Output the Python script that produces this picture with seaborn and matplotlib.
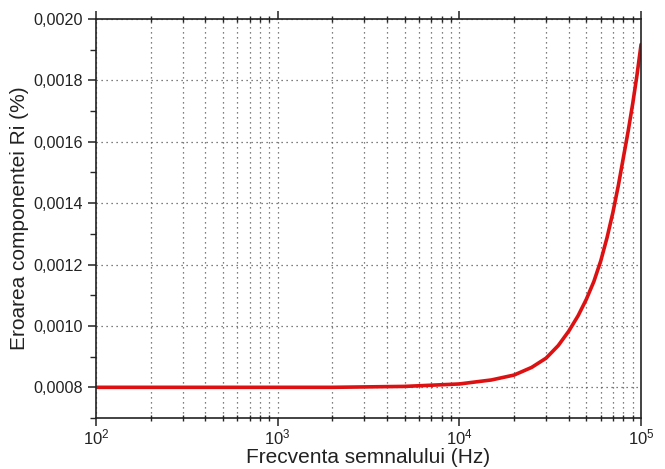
import matplotlib
matplotlib.use("Agg")
import matplotlib.pyplot as plt
import matplotlib.ticker as mticker
import seaborn as sns
import pandas as pd

# valori
frecventa = [100, 200, 500, 1000, 2000, 5000, 10000, 15000, 20000, 25000,
             30000, 35000, 40000, 45000, 50000, 55000, 60000, 65000, 70000,
             75000, 80000, 85000, 90000, 95000, 100000]
eroare = [0.0008, 0.0008, 0.0008, 0.0008, 0.0008, 0.000803, 0.000811, 0.000824,
          0.00084, 0.000865, 0.000895, 0.000936, 0.000983, 0.001033, 0.001087,
          0.001145, 0.001212, 0.001288, 0.001370, 0.001458, 0.001550, 0.001636,
          0.001725, 0.001818, 0.001917]

df = pd.DataFrame({"f": frecventa, "e": eroare})

sns.set_style("ticks")
plt.rcParams["font.family"] = ["Liberation Sans", "DejaVu Sans"]

fig = plt.figure(figsize=(6.65, 4.69), dpi=100)
ax = fig.add_axes([0.1444, 0.1087, 0.8196, 0.8508])

sns.lineplot(data=df, x="f", y="e", ax=ax, color="#dd1111", linewidth=2.6)

ax.set_xscale("log")
ax.set_xlim(100, 100000)
ax.set_ylim(0.0007, 0.0020)

ax.yaxis.set_major_locator(mticker.MultipleLocator(0.0002))
ax.yaxis.set_minor_locator(mticker.MultipleLocator(0.0001))
ax.yaxis.set_major_formatter(
    mticker.FuncFormatter(lambda v, p: f"{v:.4f}".replace(".", ",")))
ax.xaxis.set_major_locator(mticker.LogLocator(base=10, numticks=10))
ax.xaxis.set_minor_locator(mticker.LogLocator(base=10, subs=range(2, 10), numticks=10))
ax.xaxis.set_minor_formatter(mticker.NullFormatter())

ax.grid(True, which="major", axis="both", linestyle=(0, (1, 3)), color="#555555", linewidth=0.9)
ax.grid(True, which="minor", axis="x", linestyle=(0, (1, 3)), color="#555555", linewidth=0.9)

for s in ax.spines.values():
    s.set_linewidth(1.2)
    s.set_color("#222222")

ax.tick_params(axis="both", which="major", length=6, width=1.1, direction="out",
               labelsize=12, colors="#222222")
ax.tick_params(axis="x", which="major", pad=1, top=True)
ax.tick_params(axis="y", which="major", labelsize=11.6)
ax.tick_params(axis="y", which="minor", length=4, width=1.0, direction="out")
ax.tick_params(axis="x", which="minor", length=4, width=1.0, direction="inout",
               top=True)

ax.set_xlabel("Frecventa semnalului (Hz)", fontsize=15, color="#222222", labelpad=0)
ax.set_ylabel("Eroarea componentei Ri (%)", fontsize=15, color="#222222", labelpad=3)

fig.savefig("out.png", dpi=100)
